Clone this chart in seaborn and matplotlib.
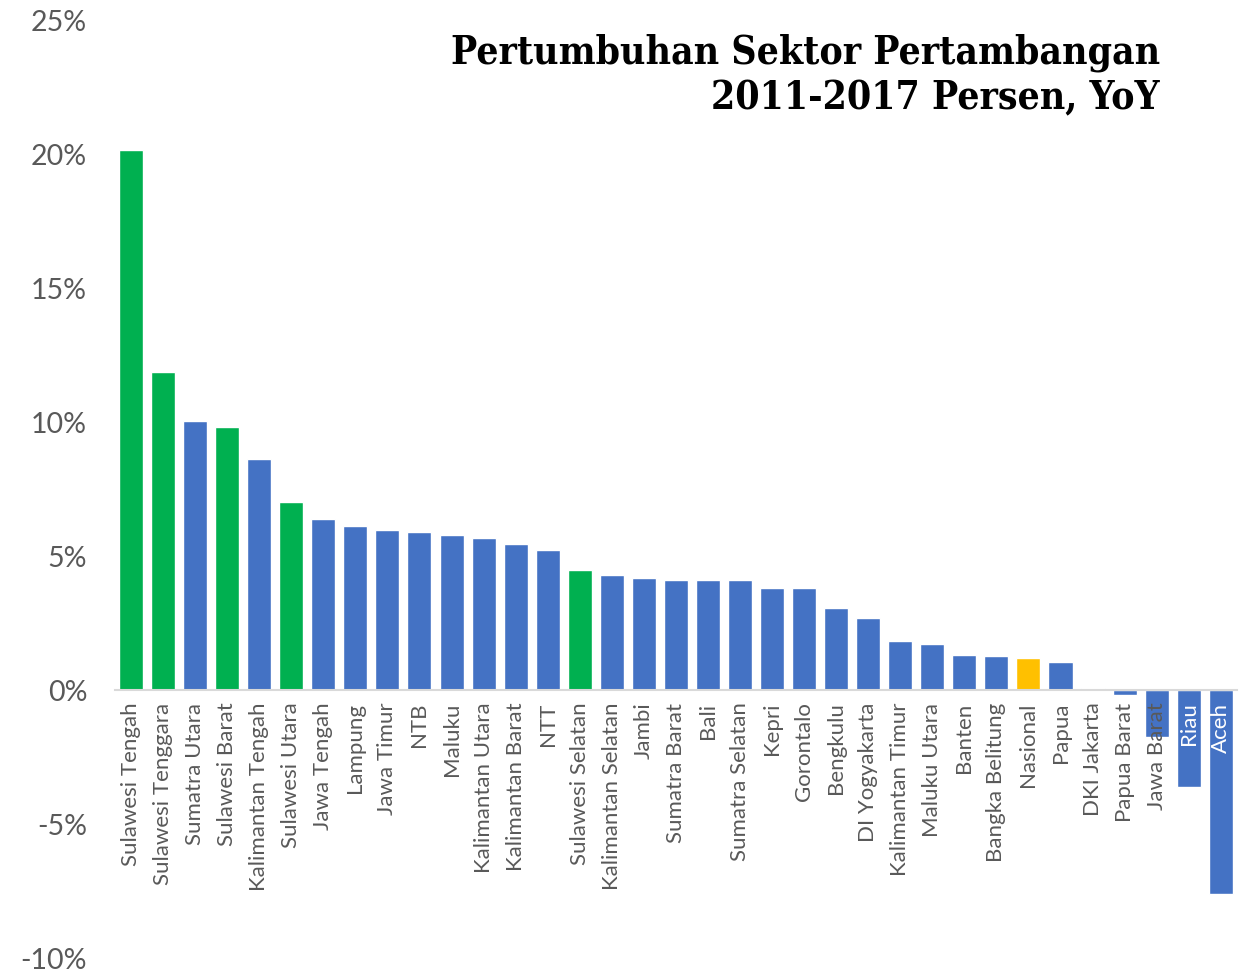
#! /usr/bin/env python3
import seaborn as sns
import pandas as pd
import matplotlib.pyplot as plt
from matplotlib.ticker import FuncFormatter

# Regions sorted by growth (percent, YoY)
REGIONS = ["Sulawesi Tengah", "Sulawesi Tenggara", "Sumatra Utara", "Sulawesi Barat",
           "Kalimantan Tengah", "Sulawesi Utara", "Jawa Tengah", "Lampung", "Jawa Timur",
           "NTB", "Maluku", "Kalimantan Utara", "Kalimantan Barat", "NTT",
           "Sulawesi Selatan", "Kalimantan Selatan", "Jambi", "Sumatra Barat", "Bali",
           "Sumatra Selatan", "Kepri", "Gorontalo", "Bengkulu", "DI Yogyakarta",
           "Kalimantan Timur", "Maluku Utara", "Banten", "Bangka Belitung", "Nasional",
           "Papua", "DKI Jakarta", "Papua Barat", "Jawa Barat", "Riau", "Aceh"]
GROWTH = [20.15, 11.87, 10.04, 9.81, 8.62, 7.01, 6.38, 6.12, 5.97,
          5.90, 5.78, 5.67, 5.45, 5.22,
          4.48, 4.29, 4.18, 4.10, 4.10,
          4.10, 3.81, 3.81, 3.06, 2.69,
          1.83, 1.72, 1.31, 1.27, 1.19,
          1.04, 0.07, -0.19, -1.75, -3.62, -7.61]
# colour group per region
GROUP = ["sulawesi", "sulawesi", "other", "sulawesi", "other", "sulawesi", "other", "other", "other",
         "other", "other", "other", "other", "other",
         "sulawesi", "other", "other", "other", "other",
         "other", "other", "other", "other", "other",
         "other", "other", "other", "other", "nasional",
         "other", "other", "other", "other", "other", "other"]
PALETTE = {"sulawesi": "#00B050", "other": "#4472C4", "nasional": "#FFC000"}

Y_TICKS = [-10, -5, 0, 5, 10, 15, 20, 25]
TEXT_GREY = "#595959"

df = pd.DataFrame({"region": REGIONS, "growth": GROWTH, "group": GROUP})

sns.set_theme(style="white")
plt.rcParams["font.family"] = ["Lato", "DejaVu Sans"]

f = plt.figure(figsize=(12.43, 9.72), dpi=100)
ax = f.add_axes([0.0925, 0.0144, 0.9025, 0.9650])

sns.barplot(data=df, x="region", y="growth", hue="group", palette=PALETTE,
            dodge=False, legend=False, width=0.75, saturation=1, ax=ax)

ax.set_ylim(-10, 25)
ax.set_xlim(-0.5, len(REGIONS) - 0.5)
ax.set_yticks(Y_TICKS)
ax.yaxis.set_major_formatter(FuncFormatter(lambda v, p: f"{v:.0f}%"))
ax.set(xlabel="", ylabel="")
# labels drawn over the negative bars
ax.set_axisbelow(False)

# spines: only the zero line
for s in ["left", "top", "right"]:
    ax.spines[s].set_visible(False)
ax.spines["bottom"].set_position(("data", 0))
ax.spines["bottom"].set_color("#D9D9D9")
ax.spines["bottom"].set_linewidth(1.5)

ax.tick_params(axis="y", length=0, pad=20, labelsize=20.5, labelcolor=TEXT_GREY)
ax.tick_params(axis="x", length=0, pad=9, labelsize=16, labelcolor=TEXT_GREY)
for lbl in ax.get_xticklabels():
    lbl.set_rotation(90)
    lbl.set_va("top")
    lbl.set_ha("center")
    if lbl.get_text() in ("Riau", "Aceh"):
        lbl.set_color("white")

# title, right aligned
f.text(0.933, 0.966, "Pertumbuhan Sektor Pertambangan\n2011-2017 Persen, YoY",
       ha="right", va="top", multialignment="right", fontsize=28,
       fontweight="bold", family="DejaVu Serif", fontstretch="condensed",
       color="black", linespacing=1.25)

f.savefig("out.png", dpi=100)
